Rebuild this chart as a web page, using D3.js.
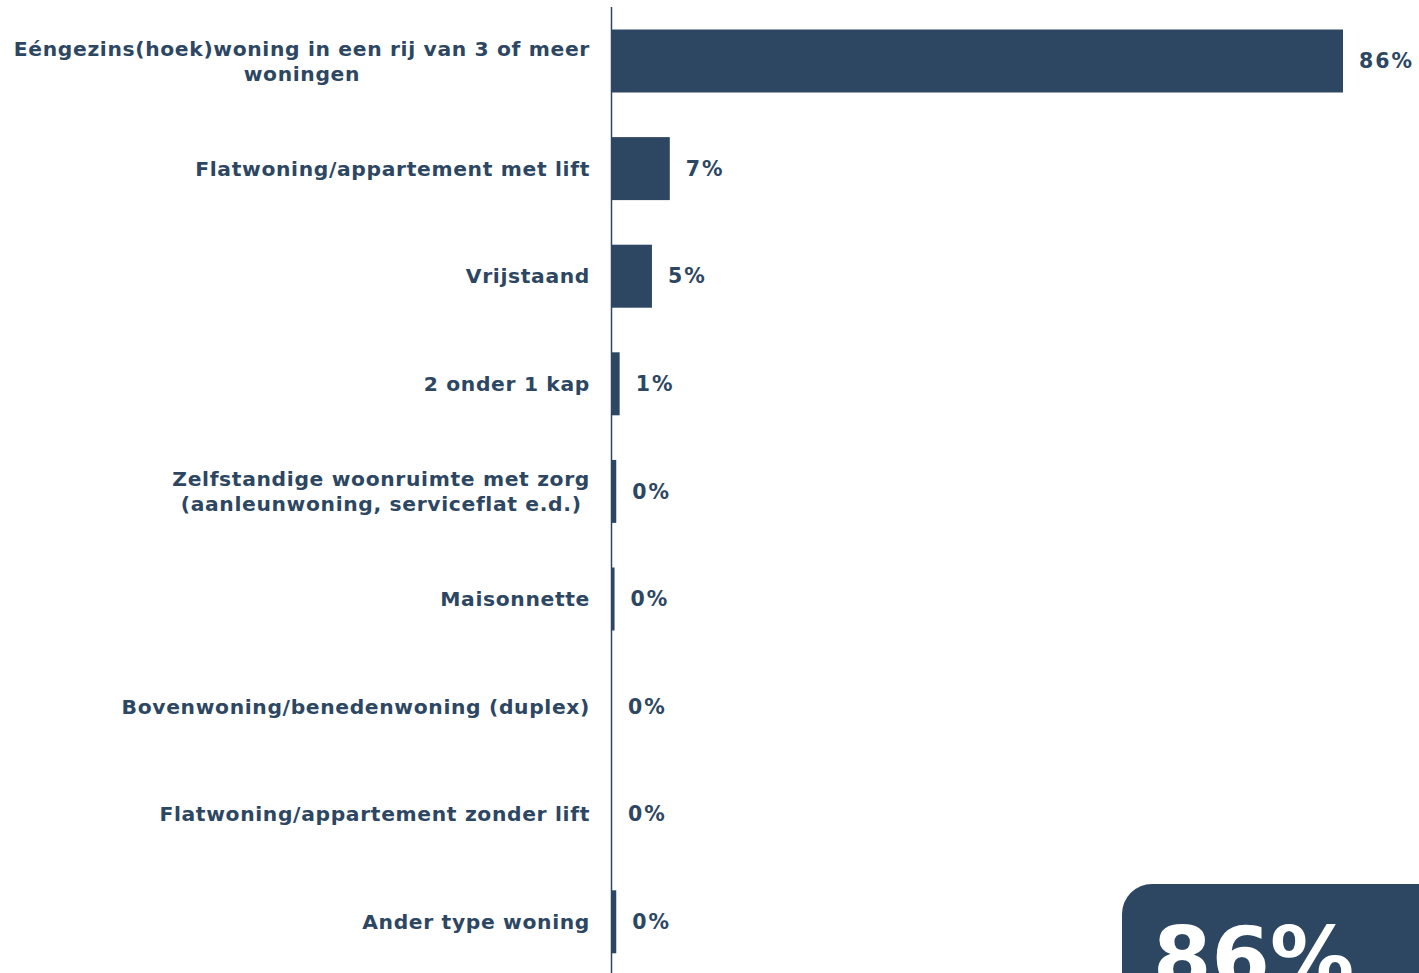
<!DOCTYPE html>
<html><head><meta charset="utf-8">
<script src="https://cdn.jsdelivr.net/npm/d3@7"></script>
<style>
html,body{margin:0;padding:0;background:#fff;overflow:hidden;}
svg{display:block;}
</style></head>
<body>
<svg id="chart" width="1419" height="973"></svg>
<script>
const categories = [
  "Eéngezins(hoek)woning in een rij van 3 of meer|woningen",
  "Flatwoning/appartement met lift",
  "Vrijstaand",
  "2 onder 1 kap",
  "Zelfstandige woonruimte met zorg|(aanleunwoning, serviceflat e.d.)",
  "Maisonnette",
  "Bovenwoning/benedenwoning (duplex)",
  "Flatwoning/appartement zonder lift",
  "Ander type woning"
];
const values = [86, 6.8, 4.7, 0.9, 0.5, 0.3, 0, 0, 0.5];
const valueLabels = ["86%", "7%", "5%", "1%", "0%", "0%", "0%", "0%", "0%"];
const highlightLabel = "86%";

const color = "#2d4763";
const font = "'DejaVu Sans', Verdana, sans-serif";
const svg = d3.select("#chart");

const x = d3.scaleLinear().domain([0, 100]).range([612, 1462]);
const y = d3.scaleBand().domain(d3.range(categories.length))
  .range([7.2, 975.6]).paddingInner(0.4145).paddingOuter(0.4145 / 2);

// bars
svg.append("g").selectAll("rect").data(values).join("rect")
  .attr("x", x(0))
  .attr("y", (d, i) => y(i))
  .attr("width", d => x(d) - x(0))
  .attr("height", y.bandwidth())
  .attr("fill", color);

// axis line
svg.append("line").attr("x1", 611.5).attr("x2", 611.5).attr("y1", 7).attr("y2", 973)
  .attr("stroke", color).attr("stroke-width", 1.5);

// value labels
svg.append("g").selectAll("text").data(values).join("text")
  .attr("x", d => x(d) + 16)
  .attr("y", (d, i) => y(i) + y.bandwidth() / 2)
  .attr("dy", "0.35em")
  .attr("font-family", font).attr("font-weight", "bold").attr("font-size", 20.5)
  .attr("letter-spacing", "2px")
  .attr("fill", color)
  .text((d, i) => valueLabels[i]);

// category labels
const lg = svg.append("g");
categories.forEach((c, i) => {
  const lines = c.split("|");
  const t = lg.append("text")
    .attr("font-family", font).attr("font-weight", "bold").attr("font-size", 20.3)
    .attr("letter-spacing", "0.65px")
    .attr("fill", color).attr("text-anchor", "middle");
  const cy = y(i) + y.bandwidth() / 2;
  const lh = 25;
  const spans = lines.map((l, k) => t.append("tspan")
    .attr("y", cy + (k - (lines.length - 1) / 2) * lh)
    .attr("dy", "0.35em").text(l));
  const maxW = d3.max(spans, s => s.node().getComputedTextLength());
  const cx = 590 - maxW / 2;
  spans.forEach(s => s.attr("x", cx));
});

// highlight box
svg.append("rect").attr("x", 1122).attr("y", 884).attr("width", 340).attr("height", 160)
  .attr("rx", 30).attr("fill", color);
svg.append("text").attr("x", 1153).attr("y", 987)
  .attr("font-family", font).attr("font-weight", "bold").attr("font-size", 84)
  .attr("fill", "#fff").text(highlightLabel);
</script>
</body></html>
